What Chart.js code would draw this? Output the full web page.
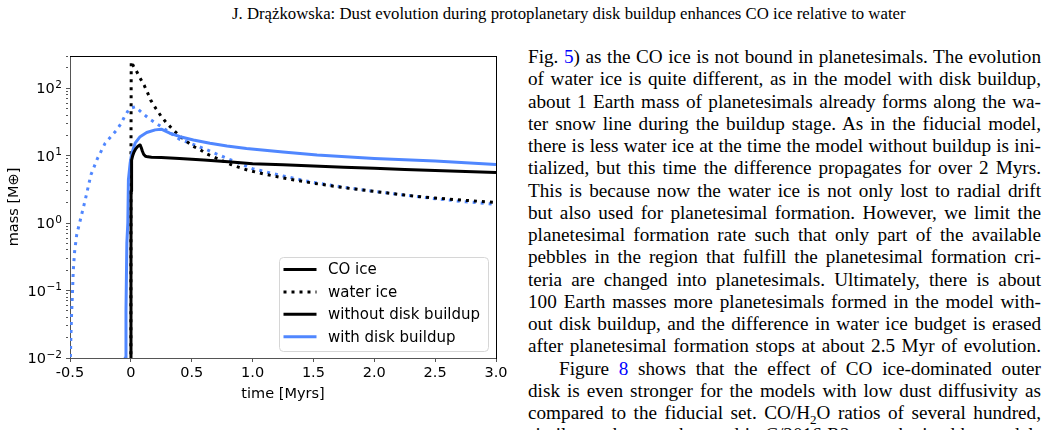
<!DOCTYPE html>
<html>
<head>
<meta charset="utf-8">
<script src="https://cdn.jsdelivr.net/npm/chart.js@4/dist/chart.umd.min.js"></script>
<style>
  html, body { margin: 0; padding: 0; }
  body { width: 1049px; height: 430px; overflow: hidden; background: #fff; position: relative; }
  #header { position: absolute; top: 4px; left: 232px;
            font-family: "Liberation Serif", serif; font-size: 18px; white-space: nowrap; color: #000; }
  #chartBox { position: absolute; left: 0; top: 0; width: 515px; height: 430px; }
  #col { position: absolute; left: 528px; top: 46px; width: 513px;
         font-family: "Liberation Serif", serif; font-size: 19.2px; color: #000; }
  .ln { height: 22.25px; line-height: 22.25px; white-space: nowrap; }
  .ln.indent { padding-left: 31px; }
  .ref { color: #0000ff; }
</style>
</head>
<body>
<div id="header"><span id="headText">J. Drążkowska: Dust evolution during protoplanetary disk buildup enhances CO ice relative to water</span></div>
<div id="chartBox"><canvas id="mass_chart"></canvas></div>
<div id="col">
  <div class="ln"><span class="t">Fig. <span class="ref">5</span>) as the CO ice is not bound in planetesimals. The evolution</span></div>
  <div class="ln"><span class="t">of water ice is quite different, as in the model with disk buildup,</span></div>
  <div class="ln"><span class="t">about 1 Earth mass of planetesimals already forms along the wa-</span></div>
  <div class="ln"><span class="t">ter snow line during the buildup stage. As in the fiducial model,</span></div>
  <div class="ln"><span class="t">there is less water ice at the time the model without buildup is ini-</span></div>
  <div class="ln"><span class="t">tialized, but this time the difference propagates for over 2 Myrs.</span></div>
  <div class="ln"><span class="t">This is because now the water ice is not only lost to radial drift</span></div>
  <div class="ln"><span class="t">but also used for planetesimal formation. However, we limit the</span></div>
  <div class="ln"><span class="t">planetesimal formation rate such that only part of the available</span></div>
  <div class="ln"><span class="t">pebbles in the region that fulfill the planetesimal formation cri-</span></div>
  <div class="ln"><span class="t">teria are changed into planetesimals. Ultimately, there is about</span></div>
  <div class="ln"><span class="t">100 Earth masses more planetesimals formed in the model with-</span></div>
  <div class="ln"><span class="t">out disk buildup, and the difference in water ice budget is erased</span></div>
  <div class="ln"><span class="t">after planetesimal formation stops at about 2.5 Myr of evolution.</span></div>
  <div class="ln indent"><span class="t">Figure <span class="ref">8</span> shows that the effect of CO ice-dominated outer</span></div>
  <div class="ln"><span class="t">disk is even stronger for the models with low dust diffusivity as</span></div>
  <div class="ln"><span class="t">compared to the fiducial set. CO/H<sub style="font-size:13px;line-height:0">2</sub>O ratios of several hundred,</span></div>
  <div class="ln"><span class="t">similar to the one observed in C/2016 R2, are obtained by models</span></div>
</div>

<script>
// time [Myrs] and mass [M_earth]
var coPlainTime = [0, 0.001, 0.002, 0.004, 0.008, 0.015, 0.025, 0.04, 0.055, 0.068, 0.076, 0.085, 0.095, 0.105, 0.12, 0.14, 0.17, 0.25, 0.4, 0.6, 0.8, 1.0, 1.25, 1.5, 1.75, 2.0, 2.25, 2.5, 2.75, 3.0];
var coPlainMass = [0.005, 0.3, 3.0, 6.5, 8.6, 10.0, 11.2, 12.6, 13.6, 14.2, 14.4, 13.2, 11.6, 10.5, 9.8, 9.6, 9.5, 9.4, 9.1, 8.6, 8.1, 7.6, 7.3, 7.0, 6.75, 6.5, 6.25, 6.0, 5.8, 5.6];

var coBuildupTime = [-0.05, -0.047, -0.04, -0.033, -0.025, -0.02, -0.006, 0.008, 0.035, 0.076, 0.13, 0.2, 0.25, 0.32, 0.405, 0.514, 0.65, 0.79, 0.95, 1.25, 1.53, 2.0, 2.5, 3.0];
var coBuildupMass = [0.005, 0.01, 0.05, 0.5, 1.0, 4.4, 7.7, 10.9, 15.3, 19.1, 22.0, 24.1, 24.7, 21.5, 19.1, 17.1, 15.3, 13.9, 12.8, 11.3, 10.2, 9.1, 8.3, 7.4];

var waterPlainTime = [0, 0.001, 0.003, 0.02, 0.044, 0.076, 0.11, 0.137, 0.164, 0.208, 0.246, 0.29, 0.342, 0.397, 0.454, 0.506, 0.57, 0.624, 0.684, 0.76, 0.82, 0.89, 0.96, 1.1, 1.3, 1.5, 1.75, 2.0, 2.25, 2.5, 2.75, 3.0];
var waterPlainMass = [0.005, 10, 250, 215, 182, 141, 110, 86, 66, 49, 39, 31, 24.7, 19.8, 16.5, 13.9, 12.2, 10.6, 9.5, 8.3, 7.4, 6.7, 6.1, 5.3, 4.5, 3.9, 3.35, 2.95, 2.6, 2.35, 2.17, 2.03];

var waterBuildupTime = [-0.5, -0.497, -0.493, -0.487, -0.48, -0.473, -0.462, -0.445, -0.416, -0.375, -0.328, -0.274, -0.211, -0.16, -0.121, -0.08, -0.052, -0.011, 0.035, 0.09, 0.153, 0.254, 0.4, 0.5, 0.624, 0.79, 1.0, 1.25, 1.5, 1.75, 2.0, 2.25, 2.5, 2.75, 3.0];
var waterBuildupMass = [0.006, 0.01, 0.02, 0.045, 0.09, 0.2, 0.38, 0.67, 1.1, 2.2, 5.2, 9.1, 15.3, 19.5, 23.5, 30, 38, 50, 53, 43.5, 35, 26.5, 17.5, 15, 12.2, 9.1, 6.4, 5.0, 4.0, 3.4, 2.95, 2.6, 2.3, 2.07, 1.9];

// y tick labels: 10^e
var decadeExponents = [-2, -1, 0, 1, 2];

var legendLabels = ["CO ice", "water ice", "without disk buildup", "with disk buildup"];
var legendColors = ["#000000", "#000000", "#000000", "#5087ff"];
var legendDashes = [[], [3, 5], [], []];

var blue = "#5087ff";
var axisGray = "#555555";

function pairs(t, m) {
  return t.map(function (v, i) { return { x: v, y: m[i] }; });
}

function isDecade(v) {
  var l = Math.log10(v);
  return Math.abs(l - Math.round(l)) < 1e-9;
}

// "10" with a raised exponent, placed on the log scale
var powerLabels = {
  id: "powerLabels",
  afterDraw: function (chart) {
    var scale = chart.scales.y, ctx = chart.ctx;
    var right = chart.chartArea.left - 4 - 4;
    ctx.save();
    ctx.fillStyle = "#000";
    ctx.textAlign = "right";
    ctx.textBaseline = "alphabetic";
    decadeExponents.forEach(function (e) {
      var y = scale.getPixelForValue(Math.pow(10, e));
      var expText = e < 0 ? "\u2212" + (-e) : String(e);
      ctx.font = '10.5px "DejaVu Sans"';
      var ew = ctx.measureText(expText).width;
      ctx.fillText(expText, right, y - 0.5);
      ctx.font = '14.5px "DejaVu Sans"';
      ctx.fillText("10", right - ew - 0.5, y + 5.3);
    });
    ctx.restore();
  }
};

// legend box sits inside the plot, lower right
var insideLegend = {
  id: "insideLegend",
  afterDatasetsDraw: function (chart) {
    var ctx = chart.ctx, area = chart.chartArea;
    var w = 209, h = 94, rowH = 22.4;
    var x0 = area.right - 8 - w, y0 = area.bottom - 7 - h;
    ctx.save();
    ctx.beginPath();
    ctx.roundRect(Math.round(x0) + 0.5, Math.round(y0) + 0.5, w, h, 4);
    ctx.fillStyle = "rgba(255,255,255,0.85)";
    ctx.fill();
    ctx.strokeStyle = "#d6d6d6";
    ctx.lineWidth = 1;
    ctx.stroke();
    legendLabels.forEach(function (label, i) {
      var y = y0 + 12.5 + i * rowH;
      ctx.beginPath();
      ctx.setLineDash(legendDashes[i]);
      ctx.lineCap = "butt";
      ctx.strokeStyle = legendColors[i];
      ctx.lineWidth = 3;
      ctx.moveTo(x0 + 4.5, y);
      ctx.lineTo(x0 + 37.5, y);
      ctx.stroke();
      ctx.setLineDash([]);
      ctx.fillStyle = "#000";
      ctx.font = '15px "DejaVu Sans"';
      ctx.textBaseline = "middle";
      ctx.textAlign = "left";
      ctx.fillText(label, x0 + 49, y + 1);
    });
    ctx.restore();
  }
};

var tickFont = { family: "DejaVu Sans", size: 14.5 };

var ctx = document.getElementById("mass_chart").getContext("2d");
var mass_chart = new Chart(ctx, {
  type: "line",
  data: {
    datasets: [
      {
        label: "CO ice, without disk buildup",
        data: pairs(coPlainTime, coPlainMass),
        borderColor: "#000000",
        borderWidth: 3,
      },
      {
        label: "CO ice, with disk buildup",
        data: pairs(coBuildupTime, coBuildupMass),
        borderColor: blue,
        borderWidth: 3,
      },
      {
        label: "water ice, without disk buildup",
        data: pairs(waterPlainTime, waterPlainMass),
        borderColor: "#000000",
        borderWidth: 3,
        borderDash: [3, 5],
        borderCapStyle: "butt",
      },
      {
        label: "water ice, with disk buildup",
        data: pairs(waterBuildupTime, waterBuildupMass),
        borderColor: blue,
        borderWidth: 3,
        borderDash: [3, 5],
        borderCapStyle: "butt",
      },
    ],
  },
  options: {
    responsive: true,
    maintainAspectRatio: false,
    animation: false,
    parsing: false,
    elements: {
      point: { radius: 0 },
      line: { tension: 0, fill: false, borderJoinStyle: "round" },
    },
    layout: { padding: { left: 0, top: 56, right: 19, bottom: 23 } },
    scales: {
      x: {
        type: "linear",
        position: "bottom",
        min: -0.5,
        max: 3,
        ticks: { stepSize: 0.5, color: "#000", font: tickFont, padding: 3, maxRotation: 0 },
        grid: { drawOnChartArea: false, tickLength: 4, tickColor: axisGray },
        border: { color: axisGray, width: 1 },
        title: { display: true, text: "time [Myrs]", color: "#000", font: tickFont, padding: { top: 2, bottom: 4 } },
        afterFit: function (scale) { scale.height = 49; },
      },
      y: {
        type: "logarithmic",
        position: "left",
        min: 0.01,
        max: 300,
        afterBuildTicks: function (scale) {
          var ticks = [];
          for (var e = -2; e <= 2; e++) {
            for (var k = 1; k <= 9; k++) {
              var v = k * Math.pow(10, e);
              if (v >= 0.01 && v <= 300) ticks.push({ value: v });
            }
          }
          scale.ticks = ticks;
        },
        ticks: { display: false, autoSkip: false },
        grid: {
          drawOnChartArea: false,
          tickLength: 4,
          tickColor: axisGray,
          tickBorderDash: function (c) {
            return c.tick && !isDecade(c.tick.value) ? [2, 20] : [];
          },
        },
        border: { color: axisGray, width: 1 },
        title: { display: true, text: "mass [M\u2295]", color: "#000", font: tickFont, padding: { top: 6, bottom: 2 } },
        afterFit: function (scale) { scale.width = 70; },
      },
      xTop: {
        type: "linear",
        position: "top",
        min: -0.5,
        max: 3,
        ticks: { display: false },
        grid: { drawOnChartArea: false, drawTicks: false },
        border: { color: "#000", width: 1 },
        afterFit: function (scale) { scale.height = 0; },
      },
      yRight: {
        type: "linear",
        position: "right",
        min: 0,
        max: 1,
        ticks: { display: false },
        grid: { drawOnChartArea: false, drawTicks: false },
        border: { color: "#000", width: 1 },
        afterFit: function (scale) { scale.width = 0; },
      },
    },
    plugins: {
      legend: { display: false },
      tooltip: { enabled: false },
    },
  },
  plugins: [insideLegend, powerLabels],
});

// running head: stretch to the width it has on the page
var head = document.getElementById("headText");
var headW = head.getBoundingClientRect().width;
document.getElementById("header").style.fontSize = (18 * 674 / headW) + "px";

// justify each text line to the column width
var col = document.getElementById("col");
document.querySelectorAll(".ln").forEach(function (ln) {
  var t = ln.querySelector(".t");
  var indent = ln.classList.contains("indent") ? 31 : 0;
  var gaps = (t.textContent.match(/ /g) || []).length;
  var natural = t.getBoundingClientRect().width;
  if (gaps > 0) t.style.wordSpacing = ((col.clientWidth - indent - natural) / gaps) + "px";
});
</script>
</body>
</html>
